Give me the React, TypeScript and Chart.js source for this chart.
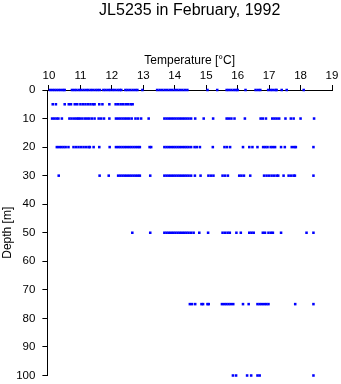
import React, { useEffect, useRef } from "react";
import { Chart, registerables } from "chart.js";

Chart.register(...registerables);

const titleText = "JL5235 in February, 1992";
const xTitle = "Temperature [°C]";
const yTitle = "Depth [m]";
const xTicks = [10, 11, 12, 13, 14, 15, 16, 17, 18, 19];
const yTicks = [0, 10, 20, 30, 40, 50, 60, 70, 80, 90, 100];
const depths = [0, 5, 10, 20, 30, 50, 75, 100];

const temps0 = [10.03, 10.1, 10.17, 10.24, 10.31, 10.38, 10.45, 10.5, 10.73, 10.8, 10.87, 10.95, 11.02, 11.1, 11.18, 11.25, 11.33, 11.4, 11.48, 11.55, 11.62, 11.73, 11.8, 11.88, 11.95, 12.03, 12.1, 12.18, 12.25, 12.3, 12.43, 12.5, 12.58, 12.66, 12.74, 12.81, 12.97, 13.44, 13.52, 13.6, 13.68, 13.76, 13.84, 13.92, 14.0, 14.08, 14.16, 14.24, 14.32, 14.4, 15.04, 15.35, 15.65, 15.72, 15.8, 15.88, 15.95, 16.0, 16.25, 16.57, 16.65, 16.72, 16.97, 17.05, 17.12, 17.2, 17.24, 17.4, 17.56, 18.1];
const temps5 = [10.12, 10.22, 10.5, 10.63, 10.7, 10.82, 10.9, 11.0, 11.08, 11.16, 11.24, 11.32, 11.4, 11.45, 11.6, 11.7, 11.92, 12.12, 12.2, 12.28, 12.36, 12.44, 12.52, 12.6, 12.66];
const temps10 = [10.1, 10.17, 10.24, 10.3, 10.41, 10.65, 10.72, 10.8, 10.87, 10.93, 10.98, 11.06, 11.14, 11.21, 11.28, 11.36, 11.45, 11.58, 11.66, 11.75, 11.92, 12.13, 12.2, 12.27, 12.34, 12.41, 12.48, 12.55, 12.63, 12.75, 12.83, 12.93, 13.17, 13.67, 13.74, 13.81, 13.88, 13.95, 14.02, 14.09, 14.16, 14.23, 14.3, 14.37, 14.44, 14.52, 14.65, 14.92, 15.22, 15.65, 15.72, 15.8, 15.9, 16.23, 16.73, 16.8, 16.9, 17.1, 17.17, 17.24, 17.32, 17.52, 17.69, 17.78, 18.0, 18.43];
const temps20 = [10.25, 10.32, 10.39, 10.46, 10.53, 10.62, 10.78, 10.86, 10.94, 11.02, 11.1, 11.18, 11.26, 11.3, 11.42, 11.6, 11.93, 12.13, 12.2, 12.27, 12.34, 12.41, 12.48, 12.55, 12.62, 12.69, 12.76, 12.83, 12.89, 13.2, 13.25, 13.67, 13.74, 13.81, 13.88, 13.95, 14.02, 14.09, 14.16, 14.23, 14.3, 14.37, 14.44, 14.52, 14.63, 14.7, 14.8, 15.21, 15.58, 15.66, 15.76, 16.17, 16.37, 16.47, 16.63, 16.81, 16.88, 16.95, 17.05, 17.12, 17.19, 17.38, 17.5, 17.72, 17.8, 17.85, 18.41];
const temps30 = [10.31, 11.61, 11.9, 12.2, 12.27, 12.34, 12.41, 12.48, 12.55, 12.62, 12.69, 12.76, 12.83, 12.89, 13.22, 13.67, 13.74, 13.81, 13.88, 13.95, 14.02, 14.09, 14.16, 14.23, 14.3, 14.37, 14.44, 14.52, 14.64, 14.82, 15.07, 15.15, 15.23, 15.52, 15.6, 15.69, 16.05, 16.12, 16.2, 16.4, 16.84, 16.92, 17.0, 17.08, 17.16, 17.24, 17.29, 17.46, 17.62, 17.7, 17.78, 17.82, 18.41];
const temps50 = [12.65, 13.22, 13.67, 13.74, 13.81, 13.88, 13.95, 14.02, 14.09, 14.16, 14.23, 14.3, 14.37, 14.44, 14.52, 14.6, 14.78, 15.06, 15.52, 15.6, 15.68, 15.75, 15.96, 16.1, 16.37, 16.44, 16.51, 16.8, 16.87, 16.98, 17.06, 17.12, 17.38, 18.19, 18.41];
const temps75 = [14.48, 14.55, 14.65, 14.85, 14.9, 15.04, 15.08, 15.5, 15.57, 15.64, 15.71, 15.78, 15.86, 16.17, 16.35, 16.63, 16.7, 16.77, 16.84, 16.91, 16.98, 17.83, 18.41];
const temps100 = [15.85, 15.95, 16.3, 16.43, 16.63, 16.7, 18.41];

const tempsByDepth = [temps0, temps5, temps10, temps20, temps30, temps50, temps75, temps100];

const FONT = "'Liberation Sans', Arial, Helvetica, sans-serif";

export default function App() {
  const ref = useRef<HTMLCanvasElement | null>(null);

  useEffect(() => {
    if (!ref.current) return;
    const points: { x: number; y: number }[] = [];
    depths.forEach((d, i) => {
      tempsByDepth[i].forEach((t) => points.push({ x: t, y: d }));
    });

    const chart = new Chart(ref.current, {
      type: "scatter",
      data: {
        datasets: [
          {
            data: points,
            backgroundColor: "#0000ff",
            borderWidth: 0,
            pointStyle: "rect",
            pointRadius: 1.8,
            pointHoverRadius: 1.8,
            clip: false as any,
          },
        ],
      },
      options: {
        animation: false,
        responsive: false,
        devicePixelRatio: 1,
        layout: { padding: { left: 0, right: 9, top: 0, bottom: 0 } },
        plugins: {
          legend: { display: false },
          tooltip: { enabled: false },
          title: {
            display: true,
            text: titleText,
            fullSize: false,
            color: "#000",
            font: { family: FONT, size: 16, weight: "normal" },
            padding: { top: 1, bottom: 0 },
          },
        },
        scales: {
          x: {
            type: "linear",
            position: "top",
            min: 9.95,
            max: 19,
            afterBuildTicks: (s: any) => {
              s.ticks = xTicks.map((v) => ({ value: v }));
            },
            afterFit: (s: any) => {
              s.height = 69.8;
            },
            grid: {
              display: true,
              drawOnChartArea: false,
              drawTicks: true,
              tickLength: 5,
              color: "#000",
              lineWidth: 1,
            },
            border: { display: true, color: "#000", width: 1 },
            ticks: {
              color: "#000",
              font: { family: FONT, size: 11.5 },
              padding: 2.6,
              maxRotation: 0,
              autoSkip: false,
              callback: (v: any) => String(v),
            },
            title: {
              display: true,
              text: xTitle,
              color: "#000",
              font: { family: FONT, size: 12 },
              padding: { top: 33.6, bottom: 0 },
            },
          },
          y: {
            type: "linear",
            position: "left",
            reverse: true,
            min: 0,
            max: 100,
            afterBuildTicks: (s: any) => {
              s.ticks = yTicks.map((v) => ({ value: v }));
            },
            afterFit: (s: any) => {
              s.width = 47.4;
              s.paddingBottom = 8.5;
              s.paddingTop = 0;
            },
            grid: {
              display: true,
              drawOnChartArea: false,
              drawTicks: true,
              tickLength: 5,
              color: "#000",
              lineWidth: 1,
            },
            border: { display: true, color: "#000", width: 1 },
            ticks: {
              color: "#000",
              font: { family: FONT, size: 11.5 },
              padding: 7,
              autoSkip: false,
              callback: (v: any) => String(v),
            },
            title: {
              display: true,
              text: yTitle,
              color: "#000",
              font: { family: FONT, size: 12 },
              padding: { top: 0, bottom: 0 },
            },
          },
        },
      },
    });
    return () => chart.destroy();
  }, []);

  return (
    <div style={{ position: "absolute", left: 0, top: 0, width: 341, height: 384, background: "#fff" }}>
      <canvas ref={ref} width={341} height={384} style={{ display: "block" }} />
    </div>
  );
}
